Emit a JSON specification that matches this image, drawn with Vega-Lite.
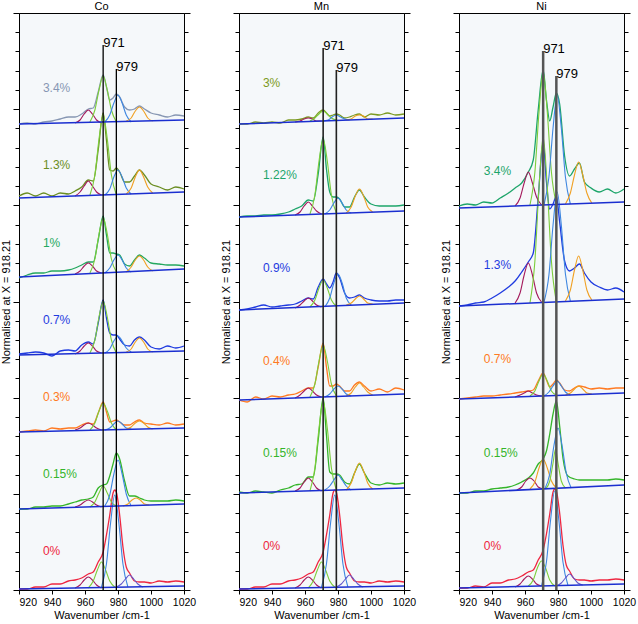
{
"$schema":"https://vega.github.io/schema/vega-lite/v6.json",
"padding":{"left":0,"top":0,"right":0,"bottom":0},
"background":"#ffffff",
"config":{"view":{"stroke":"#000","strokeWidth":1,"fill":"#f5f8fa"},
"axis":{"labelFont":"Liberation Sans","titleFont":"Liberation Sans","labelFontSize":10.5,"titleFontSize":11,"titleFontWeight":"normal","domainColor":"#000","tickColor":"#000","labelColor":"#000","titleColor":"#000","grid":false,"labelOverlap":false},
"axisY":{"titleFontSize":11},
"axisX":{"labelFlush":false,"labelAlign":{"condition":{"test":"datum.value === 920","value":"left"},"value":"center"}},
"title":{"font":"Liberation Sans","fontSize":11,"fontWeight":"normal","offset":1,"color":"#000"},
"text":{"font":"Liberation Sans"}},
"datasets":{
"co":[
{"s":"C1","c":"S","x":920,"y":466},{"s":"C1","c":"S","x":925,"y":467},{"s":"C1","c":"S","x":930,"y":466},{"s":"C1","c":"S","x":935,"y":468},{"s":"C1","c":"S","x":940,"y":469},{"s":"C1","c":"S","x":945,"y":471},{"s":"C1","c":"S","x":950,"y":473},{"s":"C1","c":"S","x":954,"y":473},{"s":"C1","c":"S","x":958,"y":476},{"s":"C1","c":"S","x":962,"y":481},{"s":"C1","c":"S","x":965,"y":482},{"s":"C1","c":"S","x":968,"y":498},{"s":"C1","c":"S","x":971,"y":515},{"s":"C1","c":"S","x":973,"y":503},{"s":"C1","c":"S","x":975,"y":490},{"s":"C1","c":"S","x":977,"y":492},{"s":"C1","c":"S","x":979,"y":496},{"s":"C1","c":"S","x":981,"y":493},{"s":"C1","c":"S","x":984,"y":483},{"s":"C1","c":"S","x":987,"y":480},{"s":"C1","c":"S","x":990,"y":481},{"s":"C1","c":"S","x":993,"y":484},{"s":"C1","c":"S","x":996,"y":481},{"s":"C1","c":"S","x":1000,"y":477},{"s":"C1","c":"S","x":1005,"y":475},{"s":"C1","c":"S","x":1010,"y":473},{"s":"C1","c":"S","x":1015,"y":475},{"s":"C1","c":"S","x":1020,"y":474},
{"s":"C1","c":"L","x":920,"y":466},{"s":"C1","c":"L","x":1020,"y":470},
{"s":"C1","c":"A","x":954,"y":467},{"s":"C1","c":"A","x":957,"y":470},{"s":"C1","c":"A","x":959.5,"y":476},{"s":"C1","c":"A","x":962,"y":480},{"s":"C1","c":"A","x":964.5,"y":476},{"s":"C1","c":"A","x":967,"y":470},{"s":"C1","c":"A","x":970,"y":467},
{"s":"C1","c":"G","x":963,"y":468},{"s":"C1","c":"G","x":966,"y":480},{"s":"C1","c":"G","x":968.5,"y":500},{"s":"C1","c":"G","x":971,"y":514},{"s":"C1","c":"G","x":973.5,"y":500},{"s":"C1","c":"G","x":976,"y":480},{"s":"C1","c":"G","x":979,"y":468},
{"s":"C1","c":"U","x":972,"y":468},{"s":"C1","c":"U","x":975,"y":475},{"s":"C1","c":"U","x":977.5,"y":487},{"s":"C1","c":"U","x":980,"y":495},{"s":"C1","c":"U","x":982.5,"y":487},{"s":"C1","c":"U","x":985,"y":475},{"s":"C1","c":"U","x":988,"y":468},
{"s":"C1","c":"O","x":985,"y":469},{"s":"C1","c":"O","x":988,"y":472},{"s":"C1","c":"O","x":990.5,"y":479},{"s":"C1","c":"O","x":993,"y":483},{"s":"C1","c":"O","x":995.5,"y":479},{"s":"C1","c":"O","x":998,"y":472},{"s":"C1","c":"O","x":1001,"y":469},

{"s":"C2","c":"S","x":920,"y":394},{"s":"C2","c":"S","x":925,"y":397},{"s":"C2","c":"S","x":930,"y":394},{"s":"C2","c":"S","x":935,"y":397},{"s":"C2","c":"S","x":940,"y":394},{"s":"C2","c":"S","x":945,"y":397},{"s":"C2","c":"S","x":950,"y":396},{"s":"C2","c":"S","x":954,"y":399},{"s":"C2","c":"S","x":958,"y":403},{"s":"C2","c":"S","x":962,"y":410},{"s":"C2","c":"S","x":965,"y":409},{"s":"C2","c":"S","x":968,"y":440},{"s":"C2","c":"S","x":971,"y":477},{"s":"C2","c":"S","x":973,"y":450},{"s":"C2","c":"S","x":975,"y":420},{"s":"C2","c":"S","x":977,"y":419},{"s":"C2","c":"S","x":979,"y":422},{"s":"C2","c":"S","x":981,"y":418},{"s":"C2","c":"S","x":984,"y":408},{"s":"C2","c":"S","x":987,"y":408},{"s":"C2","c":"S","x":990,"y":414},{"s":"C2","c":"S","x":993,"y":420},{"s":"C2","c":"S","x":996,"y":415},{"s":"C2","c":"S","x":1000,"y":406},{"s":"C2","c":"S","x":1005,"y":403},{"s":"C2","c":"S","x":1010,"y":400},{"s":"C2","c":"S","x":1015,"y":403},{"s":"C2","c":"S","x":1020,"y":401},
{"s":"C2","c":"L","x":920,"y":392},{"s":"C2","c":"L","x":1020,"y":398},
{"s":"C2","c":"A","x":954,"y":394},{"s":"C2","c":"A","x":957,"y":398},{"s":"C2","c":"A","x":959.5,"y":404},{"s":"C2","c":"A","x":962,"y":409},{"s":"C2","c":"A","x":964.5,"y":404},{"s":"C2","c":"A","x":967,"y":398},{"s":"C2","c":"A","x":970,"y":395},
{"s":"C2","c":"G","x":963,"y":395},{"s":"C2","c":"G","x":966,"y":415},{"s":"C2","c":"G","x":968.5,"y":451},{"s":"C2","c":"G","x":971,"y":475},{"s":"C2","c":"G","x":973.5,"y":451},{"s":"C2","c":"G","x":976,"y":415},{"s":"C2","c":"G","x":979,"y":395},
{"s":"C2","c":"U","x":972,"y":395},{"s":"C2","c":"U","x":975,"y":401},{"s":"C2","c":"U","x":977.5,"y":413},{"s":"C2","c":"U","x":980,"y":420},{"s":"C2","c":"U","x":982.5,"y":413},{"s":"C2","c":"U","x":985,"y":402},{"s":"C2","c":"U","x":988,"y":396},
{"s":"C2","c":"O","x":985,"y":396},{"s":"C2","c":"O","x":988,"y":402},{"s":"C2","c":"O","x":990.5,"y":413},{"s":"C2","c":"O","x":993,"y":420},{"s":"C2","c":"O","x":995.5,"y":413},{"s":"C2","c":"O","x":998,"y":403},{"s":"C2","c":"O","x":1001,"y":397},

{"s":"C3","c":"S","x":920,"y":312},{"s":"C3","c":"S","x":925,"y":315},{"s":"C3","c":"S","x":930,"y":317},{"s":"C3","c":"S","x":935,"y":317},{"s":"C3","c":"S","x":940,"y":319},{"s":"C3","c":"S","x":945,"y":319},{"s":"C3","c":"S","x":950,"y":320},{"s":"C3","c":"S","x":954,"y":322},{"s":"C3","c":"S","x":958,"y":325},{"s":"C3","c":"S","x":962,"y":328},{"s":"C3","c":"S","x":965,"y":328},{"s":"C3","c":"S","x":968,"y":350},{"s":"C3","c":"S","x":971,"y":374},{"s":"C3","c":"S","x":973,"y":355},{"s":"C3","c":"S","x":975,"y":337},{"s":"C3","c":"S","x":977,"y":337},{"s":"C3","c":"S","x":979,"y":336},{"s":"C3","c":"S","x":981,"y":335},{"s":"C3","c":"S","x":984,"y":326},{"s":"C3","c":"S","x":987,"y":324},{"s":"C3","c":"S","x":990,"y":330},{"s":"C3","c":"S","x":993,"y":335},{"s":"C3","c":"S","x":996,"y":332},{"s":"C3","c":"S","x":1000,"y":327},{"s":"C3","c":"S","x":1005,"y":326},{"s":"C3","c":"S","x":1010,"y":325},{"s":"C3","c":"S","x":1015,"y":325},{"s":"C3","c":"S","x":1020,"y":324},
{"s":"C3","c":"L","x":920,"y":313},{"s":"C3","c":"L","x":1020,"y":321},
{"s":"C3","c":"A","x":954,"y":316},{"s":"C3","c":"A","x":957,"y":319},{"s":"C3","c":"A","x":959.5,"y":324},{"s":"C3","c":"A","x":962,"y":327},{"s":"C3","c":"A","x":964.5,"y":324},{"s":"C3","c":"A","x":967,"y":319},{"s":"C3","c":"A","x":970,"y":317},
{"s":"C3","c":"G","x":963,"y":317},{"s":"C3","c":"G","x":966,"y":331},{"s":"C3","c":"G","x":968.5,"y":356},{"s":"C3","c":"G","x":971,"y":372},{"s":"C3","c":"G","x":973.5,"y":356},{"s":"C3","c":"G","x":976,"y":331},{"s":"C3","c":"G","x":979,"y":318},
{"s":"C3","c":"U","x":972,"y":317},{"s":"C3","c":"U","x":975,"y":322},{"s":"C3","c":"U","x":977.5,"y":330},{"s":"C3","c":"U","x":980,"y":335},{"s":"C3","c":"U","x":982.5,"y":330},{"s":"C3","c":"U","x":985,"y":322},{"s":"C3","c":"U","x":988,"y":318},
{"s":"C3","c":"O","x":985,"y":318},{"s":"C3","c":"O","x":988,"y":323},{"s":"C3","c":"O","x":990.5,"y":330},{"s":"C3","c":"O","x":993,"y":334},{"s":"C3","c":"O","x":995.5,"y":330},{"s":"C3","c":"O","x":998,"y":323},{"s":"C3","c":"O","x":1001,"y":319},

{"s":"C4","c":"S","x":920,"y":236},{"s":"C4","c":"S","x":925,"y":237},{"s":"C4","c":"S","x":930,"y":238},{"s":"C4","c":"S","x":935,"y":237},{"s":"C4","c":"S","x":940,"y":234},{"s":"C4","c":"S","x":945,"y":239},{"s":"C4","c":"S","x":950,"y":240},{"s":"C4","c":"S","x":954,"y":239},{"s":"C4","c":"S","x":958,"y":245},{"s":"C4","c":"S","x":962,"y":248},{"s":"C4","c":"S","x":965,"y":246},{"s":"C4","c":"S","x":968,"y":267},{"s":"C4","c":"S","x":971,"y":290},{"s":"C4","c":"S","x":973,"y":272},{"s":"C4","c":"S","x":975,"y":257},{"s":"C4","c":"S","x":977,"y":255},{"s":"C4","c":"S","x":979,"y":255},{"s":"C4","c":"S","x":981,"y":251},{"s":"C4","c":"S","x":984,"y":245},{"s":"C4","c":"S","x":987,"y":244},{"s":"C4","c":"S","x":990,"y":250},{"s":"C4","c":"S","x":993,"y":253},{"s":"C4","c":"S","x":996,"y":250},{"s":"C4","c":"S","x":1000,"y":243},{"s":"C4","c":"S","x":1005,"y":241},{"s":"C4","c":"S","x":1010,"y":244},{"s":"C4","c":"S","x":1015,"y":242},{"s":"C4","c":"S","x":1020,"y":244},
{"s":"C4","c":"L","x":920,"y":235},{"s":"C4","c":"L","x":1020,"y":239},
{"s":"C4","c":"A","x":954,"y":236},{"s":"C4","c":"A","x":957,"y":239},{"s":"C4","c":"A","x":959.5,"y":244},{"s":"C4","c":"A","x":962,"y":247},{"s":"C4","c":"A","x":964.5,"y":244},{"s":"C4","c":"A","x":967,"y":239},{"s":"C4","c":"A","x":970,"y":237},
{"s":"C4","c":"G","x":963,"y":237},{"s":"C4","c":"G","x":966,"y":250},{"s":"C4","c":"G","x":968.5,"y":273},{"s":"C4","c":"G","x":971,"y":289},{"s":"C4","c":"G","x":973.5,"y":273},{"s":"C4","c":"G","x":976,"y":250},{"s":"C4","c":"G","x":979,"y":237},
{"s":"C4","c":"U","x":972,"y":237},{"s":"C4","c":"U","x":975,"y":241},{"s":"C4","c":"U","x":977.5,"y":249},{"s":"C4","c":"U","x":980,"y":254},{"s":"C4","c":"U","x":982.5,"y":249},{"s":"C4","c":"U","x":985,"y":242},{"s":"C4","c":"U","x":988,"y":238},
{"s":"C4","c":"O","x":985,"y":238},{"s":"C4","c":"O","x":988,"y":241},{"s":"C4","c":"O","x":990.5,"y":248},{"s":"C4","c":"O","x":993,"y":252},{"s":"C4","c":"O","x":995.5,"y":248},{"s":"C4","c":"O","x":998,"y":241},{"s":"C4","c":"O","x":1001,"y":238},

{"s":"C5","c":"S","x":920,"y":158},{"s":"C5","c":"S","x":925,"y":159},{"s":"C5","c":"S","x":930,"y":160},{"s":"C5","c":"S","x":935,"y":159},{"s":"C5","c":"S","x":940,"y":162},{"s":"C5","c":"S","x":945,"y":161},{"s":"C5","c":"S","x":950,"y":162},{"s":"C5","c":"S","x":954,"y":162},{"s":"C5","c":"S","x":958,"y":165},{"s":"C5","c":"S","x":962,"y":167},{"s":"C5","c":"S","x":965,"y":166},{"s":"C5","c":"S","x":968,"y":177},{"s":"C5","c":"S","x":971,"y":188},{"s":"C5","c":"S","x":973,"y":178},{"s":"C5","c":"S","x":975,"y":168},{"s":"C5","c":"S","x":977,"y":169},{"s":"C5","c":"S","x":979,"y":170},{"s":"C5","c":"S","x":981,"y":168},{"s":"C5","c":"S","x":984,"y":165},{"s":"C5","c":"S","x":987,"y":165},{"s":"C5","c":"S","x":990,"y":168},{"s":"C5","c":"S","x":993,"y":170},{"s":"C5","c":"S","x":996,"y":167},{"s":"C5","c":"S","x":1000,"y":166},{"s":"C5","c":"S","x":1005,"y":165},{"s":"C5","c":"S","x":1010,"y":167},{"s":"C5","c":"S","x":1015,"y":165},{"s":"C5","c":"S","x":1020,"y":166},
{"s":"C5","c":"L","x":920,"y":158},{"s":"C5","c":"L","x":1020,"y":162},
{"s":"C5","c":"A","x":954,"y":160},{"s":"C5","c":"A","x":957,"y":162},{"s":"C5","c":"A","x":959.5,"y":165},{"s":"C5","c":"A","x":962,"y":167},{"s":"C5","c":"A","x":964.5,"y":165},{"s":"C5","c":"A","x":967,"y":162},{"s":"C5","c":"A","x":970,"y":160},
{"s":"C5","c":"G","x":963,"y":160},{"s":"C5","c":"G","x":966,"y":167},{"s":"C5","c":"G","x":968.5,"y":179},{"s":"C5","c":"G","x":971,"y":187},{"s":"C5","c":"G","x":973.5,"y":179},{"s":"C5","c":"G","x":976,"y":167},{"s":"C5","c":"G","x":979,"y":160},
{"s":"C5","c":"U","x":972,"y":160},{"s":"C5","c":"U","x":975,"y":162},{"s":"C5","c":"U","x":977.5,"y":166},{"s":"C5","c":"U","x":980,"y":169},{"s":"C5","c":"U","x":982.5,"y":166},{"s":"C5","c":"U","x":985,"y":162},{"s":"C5","c":"U","x":988,"y":161},
{"s":"C5","c":"O","x":985,"y":161},{"s":"C5","c":"O","x":988,"y":163},{"s":"C5","c":"O","x":990.5,"y":167},{"s":"C5","c":"O","x":993,"y":169},{"s":"C5","c":"O","x":995.5,"y":167},{"s":"C5","c":"O","x":998,"y":163},{"s":"C5","c":"O","x":1001,"y":161},

{"s":"C6","c":"S","x":920,"y":81},{"s":"C6","c":"S","x":925,"y":81},{"s":"C6","c":"S","x":930,"y":83},{"s":"C6","c":"S","x":935,"y":83},{"s":"C6","c":"S","x":940,"y":84},{"s":"C6","c":"S","x":945,"y":84},{"s":"C6","c":"S","x":950,"y":86},{"s":"C6","c":"S","x":954,"y":88},{"s":"C6","c":"S","x":958,"y":90},{"s":"C6","c":"S","x":962,"y":91},{"s":"C6","c":"S","x":965,"y":93},{"s":"C6","c":"S","x":968,"y":102},{"s":"C6","c":"S","x":971,"y":105},{"s":"C6","c":"S","x":973,"y":106},{"s":"C6","c":"S","x":975,"y":114},{"s":"C6","c":"S","x":977,"y":126},{"s":"C6","c":"S","x":979,"y":137},{"s":"C6","c":"S","x":981,"y":131},{"s":"C6","c":"S","x":984,"y":109},{"s":"C6","c":"S","x":987,"y":94},{"s":"C6","c":"S","x":990,"y":94},{"s":"C6","c":"S","x":993,"y":92},{"s":"C6","c":"S","x":996,"y":90},{"s":"C6","c":"S","x":1000,"y":89},{"s":"C6","c":"S","x":1005,"y":89},{"s":"C6","c":"S","x":1010,"y":89},{"s":"C6","c":"S","x":1015,"y":90},{"s":"C6","c":"S","x":1020,"y":89},
{"s":"C6","c":"L","x":920,"y":81},{"s":"C6","c":"L","x":1020,"y":86},
{"s":"C6","c":"A","x":954,"y":83},{"s":"C6","c":"A","x":957,"y":85},{"s":"C6","c":"A","x":959.5,"y":88},{"s":"C6","c":"A","x":962,"y":90},{"s":"C6","c":"A","x":964.5,"y":88},{"s":"C6","c":"A","x":967,"y":85},{"s":"C6","c":"A","x":970,"y":83},
{"s":"C6","c":"G","x":963,"y":83},{"s":"C6","c":"G","x":966,"y":88},{"s":"C6","c":"G","x":968.5,"y":97},{"s":"C6","c":"G","x":971,"y":104},{"s":"C6","c":"G","x":973.5,"y":97},{"s":"C6","c":"G","x":976,"y":88},{"s":"C6","c":"G","x":979,"y":84},
{"s":"C6","c":"U","x":972,"y":84},{"s":"C6","c":"U","x":975,"y":95},{"s":"C6","c":"U","x":977.5,"y":116},{"s":"C6","c":"U","x":980,"y":130},{"s":"C6","c":"U","x":982.5,"y":116},{"s":"C6","c":"U","x":985,"y":96},{"s":"C6","c":"U","x":988,"y":84},
{"s":"C6","c":"O","x":983,"y":84},{"s":"C6","c":"O","x":986,"y":86},{"s":"C6","c":"O","x":988.5,"y":90},{"s":"C6","c":"O","x":991,"y":92},{"s":"C6","c":"O","x":993.5,"y":90},{"s":"C6","c":"O","x":996,"y":86},{"s":"C6","c":"O","x":999,"y":85},

{"s":"C7","c":"S","x":920,"y":1},{"s":"C7","c":"S","x":925,"y":1},{"s":"C7","c":"S","x":930,"y":3},{"s":"C7","c":"S","x":935,"y":3},{"s":"C7","c":"S","x":940,"y":6},{"s":"C7","c":"S","x":945,"y":6},{"s":"C7","c":"S","x":950,"y":9},{"s":"C7","c":"S","x":954,"y":10},{"s":"C7","c":"S","x":958,"y":12},{"s":"C7","c":"S","x":962,"y":16},{"s":"C7","c":"S","x":965,"y":18},{"s":"C7","c":"S","x":968,"y":28},{"s":"C7","c":"S","x":971,"y":38},{"s":"C7","c":"S","x":973,"y":55},{"s":"C7","c":"S","x":975,"y":75},{"s":"C7","c":"S","x":977,"y":97},{"s":"C7","c":"S","x":978,"y":100},{"s":"C7","c":"S","x":979,"y":98},{"s":"C7","c":"S","x":981,"y":75},{"s":"C7","c":"S","x":983,"y":43},{"s":"C7","c":"S","x":985,"y":23},{"s":"C7","c":"S","x":987,"y":17},{"s":"C7","c":"S","x":990,"y":9},{"s":"C7","c":"S","x":993,"y":8},{"s":"C7","c":"S","x":996,"y":8},{"s":"C7","c":"S","x":1000,"y":7},{"s":"C7","c":"S","x":1005,"y":9},{"s":"C7","c":"S","x":1010,"y":8},{"s":"C7","c":"S","x":1015,"y":9},{"s":"C7","c":"S","x":1020,"y":8},
{"s":"C7","c":"L","x":920,"y":1},{"s":"C7","c":"L","x":1020,"y":4},
{"s":"C7","c":"A","x":954,"y":2},{"s":"C7","c":"A","x":957,"y":5},{"s":"C7","c":"A","x":959.5,"y":10},{"s":"C7","c":"A","x":962,"y":13},{"s":"C7","c":"A","x":964.5,"y":10},{"s":"C7","c":"A","x":967,"y":5},{"s":"C7","c":"A","x":970,"y":2},
{"s":"C7","c":"G","x":962,"y":2},{"s":"C7","c":"G","x":965,"y":9},{"s":"C7","c":"G","x":967.5,"y":20},{"s":"C7","c":"G","x":970,"y":28},{"s":"C7","c":"G","x":972.5,"y":20},{"s":"C7","c":"G","x":975,"y":9},{"s":"C7","c":"G","x":978,"y":3},
{"s":"C7","c":"U","x":970,"y":3},{"s":"C7","c":"U","x":973,"y":26},{"s":"C7","c":"U","x":975.5,"y":67},{"s":"C7","c":"U","x":978,"y":95},{"s":"C7","c":"U","x":980.5,"y":67},{"s":"C7","c":"U","x":983,"y":26},{"s":"C7","c":"U","x":986,"y":3},
{"s":"C7","c":"V","x":979,"y":3},{"s":"C7","c":"V","x":982,"y":6},{"s":"C7","c":"V","x":984.5,"y":11},{"s":"C7","c":"V","x":987,"y":15},{"s":"C7","c":"V","x":989.5,"y":11},{"s":"C7","c":"V","x":992,"y":6},{"s":"C7","c":"V","x":995,"y":3}
],
"mn":[
{"s":"M1","c":"S","x":920,"y":466},{"s":"M1","c":"S","x":925,"y":466},{"s":"M1","c":"S","x":930,"y":468},{"s":"M1","c":"S","x":935,"y":467},{"s":"M1","c":"S","x":940,"y":468},{"s":"M1","c":"S","x":945,"y":467},{"s":"M1","c":"S","x":950,"y":470},{"s":"M1","c":"S","x":954,"y":470},{"s":"M1","c":"S","x":958,"y":471},{"s":"M1","c":"S","x":962,"y":473},{"s":"M1","c":"S","x":965,"y":472},{"s":"M1","c":"S","x":968,"y":477},{"s":"M1","c":"S","x":971,"y":480},{"s":"M1","c":"S","x":973,"y":477},{"s":"M1","c":"S","x":975,"y":474},{"s":"M1","c":"S","x":977,"y":475},{"s":"M1","c":"S","x":979,"y":476},{"s":"M1","c":"S","x":981,"y":475},{"s":"M1","c":"S","x":984,"y":472},{"s":"M1","c":"S","x":987,"y":473},{"s":"M1","c":"S","x":990,"y":475},{"s":"M1","c":"S","x":993,"y":476},{"s":"M1","c":"S","x":996,"y":473},{"s":"M1","c":"S","x":1000,"y":476},{"s":"M1","c":"S","x":1005,"y":475},{"s":"M1","c":"S","x":1010,"y":477},{"s":"M1","c":"S","x":1015,"y":475},{"s":"M1","c":"S","x":1020,"y":476},
{"s":"M1","c":"L","x":920,"y":466},{"s":"M1","c":"L","x":1020,"y":472},
{"s":"M1","c":"A","x":954,"y":468},{"s":"M1","c":"A","x":957,"y":469},{"s":"M1","c":"A","x":959.5,"y":471},{"s":"M1","c":"A","x":962,"y":472},{"s":"M1","c":"A","x":964.5,"y":471},{"s":"M1","c":"A","x":967,"y":469},{"s":"M1","c":"A","x":970,"y":469},
{"s":"M1","c":"G","x":963,"y":469},{"s":"M1","c":"G","x":966,"y":472},{"s":"M1","c":"G","x":968.5,"y":476},{"s":"M1","c":"G","x":971,"y":479},{"s":"M1","c":"G","x":973.5,"y":476},{"s":"M1","c":"G","x":976,"y":472},{"s":"M1","c":"G","x":979,"y":470},
{"s":"M1","c":"U","x":971,"y":469},{"s":"M1","c":"U","x":974,"y":470},{"s":"M1","c":"U","x":976.5,"y":473},{"s":"M1","c":"U","x":979,"y":475},{"s":"M1","c":"U","x":981.5,"y":473},{"s":"M1","c":"U","x":984,"y":471},{"s":"M1","c":"U","x":987,"y":470},
{"s":"M1","c":"O","x":985,"y":470},{"s":"M1","c":"O","x":988,"y":471},{"s":"M1","c":"O","x":990.5,"y":474},{"s":"M1","c":"O","x":993,"y":475},{"s":"M1","c":"O","x":995.5,"y":474},{"s":"M1","c":"O","x":998,"y":471},{"s":"M1","c":"O","x":1001,"y":471},

{"s":"M2","c":"S","x":920,"y":373},{"s":"M2","c":"S","x":925,"y":374},{"s":"M2","c":"S","x":930,"y":374},{"s":"M2","c":"S","x":935,"y":375},{"s":"M2","c":"S","x":940,"y":375},{"s":"M2","c":"S","x":945,"y":376},{"s":"M2","c":"S","x":950,"y":378},{"s":"M2","c":"S","x":954,"y":381},{"s":"M2","c":"S","x":958,"y":384},{"s":"M2","c":"S","x":962,"y":390},{"s":"M2","c":"S","x":965,"y":389},{"s":"M2","c":"S","x":968,"y":416},{"s":"M2","c":"S","x":971,"y":453},{"s":"M2","c":"S","x":973,"y":421},{"s":"M2","c":"S","x":975,"y":398},{"s":"M2","c":"S","x":977,"y":393},{"s":"M2","c":"S","x":979,"y":393},{"s":"M2","c":"S","x":981,"y":391},{"s":"M2","c":"S","x":984,"y":383},{"s":"M2","c":"S","x":987,"y":383},{"s":"M2","c":"S","x":990,"y":393},{"s":"M2","c":"S","x":993,"y":400},{"s":"M2","c":"S","x":996,"y":393},{"s":"M2","c":"S","x":1000,"y":386},{"s":"M2","c":"S","x":1005,"y":384},{"s":"M2","c":"S","x":1010,"y":384},{"s":"M2","c":"S","x":1015,"y":384},{"s":"M2","c":"S","x":1020,"y":385},
{"s":"M2","c":"L","x":920,"y":373},{"s":"M2","c":"L","x":1020,"y":379},
{"s":"M2","c":"A","x":954,"y":375},{"s":"M2","c":"A","x":957,"y":378},{"s":"M2","c":"A","x":959.5,"y":384},{"s":"M2","c":"A","x":962,"y":388},{"s":"M2","c":"A","x":964.5,"y":384},{"s":"M2","c":"A","x":967,"y":379},{"s":"M2","c":"A","x":970,"y":376},
{"s":"M2","c":"G","x":963,"y":376},{"s":"M2","c":"G","x":966,"y":395},{"s":"M2","c":"G","x":968.5,"y":429},{"s":"M2","c":"G","x":971,"y":451},{"s":"M2","c":"G","x":973.5,"y":429},{"s":"M2","c":"G","x":976,"y":395},{"s":"M2","c":"G","x":979,"y":377},
{"s":"M2","c":"U","x":972,"y":376},{"s":"M2","c":"U","x":975,"y":380},{"s":"M2","c":"U","x":977.5,"y":387},{"s":"M2","c":"U","x":980,"y":392},{"s":"M2","c":"U","x":982.5,"y":387},{"s":"M2","c":"U","x":985,"y":380},{"s":"M2","c":"U","x":988,"y":377},
{"s":"M2","c":"O","x":985,"y":377},{"s":"M2","c":"O","x":988,"y":383},{"s":"M2","c":"O","x":990.5,"y":394},{"s":"M2","c":"O","x":993,"y":401},{"s":"M2","c":"O","x":995.5,"y":394},{"s":"M2","c":"O","x":998,"y":383},{"s":"M2","c":"O","x":1001,"y":378},

{"s":"M3","c":"S","x":920,"y":280},{"s":"M3","c":"S","x":925,"y":281},{"s":"M3","c":"S","x":930,"y":283},{"s":"M3","c":"S","x":935,"y":285},{"s":"M3","c":"S","x":940,"y":283},{"s":"M3","c":"S","x":945,"y":284},{"s":"M3","c":"S","x":950,"y":285},{"s":"M3","c":"S","x":954,"y":286},{"s":"M3","c":"S","x":958,"y":289},{"s":"M3","c":"S","x":962,"y":292},{"s":"M3","c":"S","x":965,"y":291},{"s":"M3","c":"S","x":968,"y":303},{"s":"M3","c":"S","x":971,"y":311},{"s":"M3","c":"S","x":973,"y":306},{"s":"M3","c":"S","x":975,"y":302},{"s":"M3","c":"S","x":977,"y":308},{"s":"M3","c":"S","x":979,"y":317},{"s":"M3","c":"S","x":981,"y":312},{"s":"M3","c":"S","x":984,"y":297},{"s":"M3","c":"S","x":987,"y":292},{"s":"M3","c":"S","x":990,"y":293},{"s":"M3","c":"S","x":993,"y":295},{"s":"M3","c":"S","x":996,"y":292},{"s":"M3","c":"S","x":1000,"y":290},{"s":"M3","c":"S","x":1005,"y":289},{"s":"M3","c":"S","x":1010,"y":289},{"s":"M3","c":"S","x":1015,"y":290},{"s":"M3","c":"S","x":1020,"y":290},
{"s":"M3","c":"L","x":920,"y":280},{"s":"M3","c":"L","x":1020,"y":287},
{"s":"M3","c":"A","x":954,"y":282},{"s":"M3","c":"A","x":957,"y":285},{"s":"M3","c":"A","x":959.5,"y":289},{"s":"M3","c":"A","x":962,"y":292},{"s":"M3","c":"A","x":964.5,"y":289},{"s":"M3","c":"A","x":967,"y":285},{"s":"M3","c":"A","x":970,"y":283},
{"s":"M3","c":"G","x":963,"y":283},{"s":"M3","c":"G","x":966,"y":290},{"s":"M3","c":"G","x":968.5,"y":302},{"s":"M3","c":"G","x":971,"y":310},{"s":"M3","c":"G","x":973.5,"y":302},{"s":"M3","c":"G","x":976,"y":290},{"s":"M3","c":"G","x":979,"y":284},
{"s":"M3","c":"U","x":972,"y":283},{"s":"M3","c":"U","x":975,"y":292},{"s":"M3","c":"U","x":977.5,"y":307},{"s":"M3","c":"U","x":980,"y":316},{"s":"M3","c":"U","x":982.5,"y":307},{"s":"M3","c":"U","x":985,"y":292},{"s":"M3","c":"U","x":988,"y":285},
{"s":"M3","c":"O","x":985,"y":285},{"s":"M3","c":"O","x":988,"y":287},{"s":"M3","c":"O","x":990.5,"y":291},{"s":"M3","c":"O","x":993,"y":294},{"s":"M3","c":"O","x":995.5,"y":291},{"s":"M3","c":"O","x":998,"y":287},{"s":"M3","c":"O","x":1001,"y":286},

{"s":"M4","c":"S","x":920,"y":190},{"s":"M4","c":"S","x":925,"y":188},{"s":"M4","c":"S","x":930,"y":193},{"s":"M4","c":"S","x":935,"y":191},{"s":"M4","c":"S","x":940,"y":194},{"s":"M4","c":"S","x":945,"y":193},{"s":"M4","c":"S","x":950,"y":195},{"s":"M4","c":"S","x":954,"y":196},{"s":"M4","c":"S","x":958,"y":199},{"s":"M4","c":"S","x":962,"y":202},{"s":"M4","c":"S","x":965,"y":202},{"s":"M4","c":"S","x":968,"y":223},{"s":"M4","c":"S","x":971,"y":247},{"s":"M4","c":"S","x":973,"y":223},{"s":"M4","c":"S","x":975,"y":204},{"s":"M4","c":"S","x":977,"y":204},{"s":"M4","c":"S","x":979,"y":206},{"s":"M4","c":"S","x":981,"y":204},{"s":"M4","c":"S","x":984,"y":199},{"s":"M4","c":"S","x":987,"y":199},{"s":"M4","c":"S","x":990,"y":205},{"s":"M4","c":"S","x":993,"y":208},{"s":"M4","c":"S","x":996,"y":204},{"s":"M4","c":"S","x":1000,"y":199},{"s":"M4","c":"S","x":1005,"y":201},{"s":"M4","c":"S","x":1010,"y":198},{"s":"M4","c":"S","x":1015,"y":202},{"s":"M4","c":"S","x":1020,"y":200},
{"s":"M4","c":"L","x":920,"y":190},{"s":"M4","c":"L","x":1020,"y":196},
{"s":"M4","c":"A","x":954,"y":192},{"s":"M4","c":"A","x":957,"y":195},{"s":"M4","c":"A","x":959.5,"y":199},{"s":"M4","c":"A","x":962,"y":202},{"s":"M4","c":"A","x":964.5,"y":199},{"s":"M4","c":"A","x":967,"y":195},{"s":"M4","c":"A","x":970,"y":193},
{"s":"M4","c":"G","x":963,"y":193},{"s":"M4","c":"G","x":966,"y":206},{"s":"M4","c":"G","x":968.5,"y":229},{"s":"M4","c":"G","x":971,"y":245},{"s":"M4","c":"G","x":973.5,"y":229},{"s":"M4","c":"G","x":976,"y":206},{"s":"M4","c":"G","x":979,"y":194},
{"s":"M4","c":"U","x":972,"y":193},{"s":"M4","c":"U","x":975,"y":196},{"s":"M4","c":"U","x":977.5,"y":201},{"s":"M4","c":"U","x":980,"y":204},{"s":"M4","c":"U","x":982.5,"y":201},{"s":"M4","c":"U","x":985,"y":196},{"s":"M4","c":"U","x":988,"y":194},
{"s":"M4","c":"O","x":985,"y":194},{"s":"M4","c":"O","x":988,"y":197},{"s":"M4","c":"O","x":990.5,"y":203},{"s":"M4","c":"O","x":993,"y":207},{"s":"M4","c":"O","x":995.5,"y":203},{"s":"M4","c":"O","x":998,"y":198},{"s":"M4","c":"O","x":1001,"y":195},

{"s":"M5","c":"S","x":920,"y":98},{"s":"M5","c":"S","x":925,"y":97},{"s":"M5","c":"S","x":930,"y":99},{"s":"M5","c":"S","x":935,"y":98},{"s":"M5","c":"S","x":940,"y":97},{"s":"M5","c":"S","x":945,"y":100},{"s":"M5","c":"S","x":950,"y":102},{"s":"M5","c":"S","x":954,"y":105},{"s":"M5","c":"S","x":958,"y":106},{"s":"M5","c":"S","x":962,"y":113},{"s":"M5","c":"S","x":965,"y":113},{"s":"M5","c":"S","x":968,"y":150},{"s":"M5","c":"S","x":971,"y":192},{"s":"M5","c":"S","x":973,"y":155},{"s":"M5","c":"S","x":975,"y":118},{"s":"M5","c":"S","x":977,"y":116},{"s":"M5","c":"S","x":979,"y":116},{"s":"M5","c":"S","x":981,"y":115},{"s":"M5","c":"S","x":984,"y":108},{"s":"M5","c":"S","x":987,"y":106},{"s":"M5","c":"S","x":990,"y":117},{"s":"M5","c":"S","x":993,"y":126},{"s":"M5","c":"S","x":996,"y":117},{"s":"M5","c":"S","x":1000,"y":107},{"s":"M5","c":"S","x":1005,"y":105},{"s":"M5","c":"S","x":1010,"y":107},{"s":"M5","c":"S","x":1015,"y":106},{"s":"M5","c":"S","x":1020,"y":107},
{"s":"M5","c":"L","x":920,"y":97},{"s":"M5","c":"L","x":1020,"y":102},
{"s":"M5","c":"A","x":954,"y":99},{"s":"M5","c":"A","x":957,"y":102},{"s":"M5","c":"A","x":959.5,"y":108},{"s":"M5","c":"A","x":962,"y":112},{"s":"M5","c":"A","x":964.5,"y":108},{"s":"M5","c":"A","x":967,"y":102},{"s":"M5","c":"A","x":970,"y":99},
{"s":"M5","c":"G","x":963,"y":99},{"s":"M5","c":"G","x":966,"y":122},{"s":"M5","c":"G","x":968.5,"y":162},{"s":"M5","c":"G","x":971,"y":189},{"s":"M5","c":"G","x":973.5,"y":162},{"s":"M5","c":"G","x":976,"y":122},{"s":"M5","c":"G","x":979,"y":100},
{"s":"M5","c":"U","x":972,"y":100},{"s":"M5","c":"U","x":975,"y":104},{"s":"M5","c":"U","x":977.5,"y":110},{"s":"M5","c":"U","x":980,"y":115},{"s":"M5","c":"U","x":982.5,"y":110},{"s":"M5","c":"U","x":985,"y":104},{"s":"M5","c":"U","x":988,"y":100},
{"s":"M5","c":"O","x":985,"y":100},{"s":"M5","c":"O","x":988,"y":107},{"s":"M5","c":"O","x":990.5,"y":119},{"s":"M5","c":"O","x":993,"y":127},{"s":"M5","c":"O","x":995.5,"y":119},{"s":"M5","c":"O","x":998,"y":107},{"s":"M5","c":"O","x":1001,"y":101},

{"s":"M6","c":"S","x":920,"y":1},{"s":"M6","c":"S","x":925,"y":1},{"s":"M6","c":"S","x":930,"y":3},{"s":"M6","c":"S","x":935,"y":3},{"s":"M6","c":"S","x":940,"y":6},{"s":"M6","c":"S","x":945,"y":6},{"s":"M6","c":"S","x":950,"y":9},{"s":"M6","c":"S","x":954,"y":10},{"s":"M6","c":"S","x":958,"y":12},{"s":"M6","c":"S","x":962,"y":16},{"s":"M6","c":"S","x":965,"y":18},{"s":"M6","c":"S","x":968,"y":28},{"s":"M6","c":"S","x":971,"y":38},{"s":"M6","c":"S","x":973,"y":55},{"s":"M6","c":"S","x":975,"y":75},{"s":"M6","c":"S","x":977,"y":97},{"s":"M6","c":"S","x":978,"y":100},{"s":"M6","c":"S","x":979,"y":98},{"s":"M6","c":"S","x":981,"y":75},{"s":"M6","c":"S","x":983,"y":43},{"s":"M6","c":"S","x":985,"y":23},{"s":"M6","c":"S","x":987,"y":17},{"s":"M6","c":"S","x":990,"y":9},{"s":"M6","c":"S","x":993,"y":8},{"s":"M6","c":"S","x":996,"y":8},{"s":"M6","c":"S","x":1000,"y":7},{"s":"M6","c":"S","x":1005,"y":9},{"s":"M6","c":"S","x":1010,"y":8},{"s":"M6","c":"S","x":1015,"y":9},{"s":"M6","c":"S","x":1020,"y":8},
{"s":"M6","c":"L","x":920,"y":1},{"s":"M6","c":"L","x":1020,"y":4},
{"s":"M6","c":"A","x":954,"y":2},{"s":"M6","c":"A","x":957,"y":5},{"s":"M6","c":"A","x":959.5,"y":10},{"s":"M6","c":"A","x":962,"y":13},{"s":"M6","c":"A","x":964.5,"y":10},{"s":"M6","c":"A","x":967,"y":5},{"s":"M6","c":"A","x":970,"y":2},
{"s":"M6","c":"G","x":962,"y":2},{"s":"M6","c":"G","x":965,"y":9},{"s":"M6","c":"G","x":967.5,"y":20},{"s":"M6","c":"G","x":970,"y":28},{"s":"M6","c":"G","x":972.5,"y":20},{"s":"M6","c":"G","x":975,"y":9},{"s":"M6","c":"G","x":978,"y":3},
{"s":"M6","c":"U","x":970,"y":3},{"s":"M6","c":"U","x":973,"y":26},{"s":"M6","c":"U","x":975.5,"y":67},{"s":"M6","c":"U","x":978,"y":95},{"s":"M6","c":"U","x":980.5,"y":67},{"s":"M6","c":"U","x":983,"y":26},{"s":"M6","c":"U","x":986,"y":3},
{"s":"M6","c":"V","x":979,"y":3},{"s":"M6","c":"V","x":982,"y":6},{"s":"M6","c":"V","x":984.5,"y":11},{"s":"M6","c":"V","x":987,"y":15},{"s":"M6","c":"V","x":989.5,"y":11},{"s":"M6","c":"V","x":992,"y":6},{"s":"M6","c":"V","x":995,"y":3}
],
"ni":[
{"s":"N1","c":"S","x":920,"y":384},{"s":"N1","c":"S","x":925,"y":386},{"s":"N1","c":"S","x":930,"y":385},{"s":"N1","c":"S","x":935,"y":388},{"s":"N1","c":"S","x":940,"y":387},{"s":"N1","c":"S","x":945,"y":392},{"s":"N1","c":"S","x":950,"y":397},{"s":"N1","c":"S","x":954,"y":402},{"s":"N1","c":"S","x":958,"y":407},{"s":"N1","c":"S","x":962,"y":418},{"s":"N1","c":"S","x":965,"y":430},{"s":"N1","c":"S","x":968,"y":480},{"s":"N1","c":"S","x":971,"y":520},{"s":"N1","c":"S","x":973,"y":490},{"s":"N1","c":"S","x":975,"y":469},{"s":"N1","c":"S","x":977,"y":483},{"s":"N1","c":"S","x":979,"y":497},{"s":"N1","c":"S","x":981,"y":486},{"s":"N1","c":"S","x":984,"y":434},{"s":"N1","c":"S","x":987,"y":414},{"s":"N1","c":"S","x":990,"y":421},{"s":"N1","c":"S","x":993,"y":427},{"s":"N1","c":"S","x":996,"y":408},{"s":"N1","c":"S","x":1000,"y":402},{"s":"N1","c":"S","x":1005,"y":398},{"s":"N1","c":"S","x":1010,"y":401},{"s":"N1","c":"S","x":1015,"y":397},{"s":"N1","c":"S","x":1020,"y":401},
{"s":"N1","c":"L","x":920,"y":382},{"s":"N1","c":"L","x":1020,"y":388},
{"s":"N1","c":"A","x":954,"y":384},{"s":"N1","c":"A","x":957,"y":392},{"s":"N1","c":"A","x":959.5,"y":407},{"s":"N1","c":"A","x":962,"y":418},{"s":"N1","c":"A","x":964.5,"y":407},{"s":"N1","c":"A","x":967,"y":393},{"s":"N1","c":"A","x":970,"y":385},
{"s":"N1","c":"G","x":963,"y":385},{"s":"N1","c":"G","x":966,"y":418},{"s":"N1","c":"G","x":968.5,"y":478},{"s":"N1","c":"G","x":971,"y":518},{"s":"N1","c":"G","x":973.5,"y":478},{"s":"N1","c":"G","x":976,"y":418},{"s":"N1","c":"G","x":979,"y":386},
{"s":"N1","c":"U","x":971.5,"y":385},{"s":"N1","c":"U","x":974.5,"y":413},{"s":"N1","c":"U","x":977,"y":462},{"s":"N1","c":"U","x":979.5,"y":495},{"s":"N1","c":"U","x":982,"y":462},{"s":"N1","c":"U","x":984.5,"y":413},{"s":"N1","c":"U","x":987.5,"y":386},
{"s":"N1","c":"O","x":984.5,"y":386},{"s":"N1","c":"O","x":987.5,"y":397},{"s":"N1","c":"O","x":990,"y":415},{"s":"N1","c":"O","x":992.5,"y":428},{"s":"N1","c":"O","x":995,"y":415},{"s":"N1","c":"O","x":997.5,"y":397},{"s":"N1","c":"O","x":1000.5,"y":387},

{"s":"N2","c":"S","x":920,"y":284},{"s":"N2","c":"S","x":925,"y":285},{"s":"N2","c":"S","x":930,"y":287},{"s":"N2","c":"S","x":935,"y":288},{"s":"N2","c":"S","x":940,"y":292},{"s":"N2","c":"S","x":945,"y":297},{"s":"N2","c":"S","x":950,"y":303},{"s":"N2","c":"S","x":954,"y":309},{"s":"N2","c":"S","x":958,"y":318},{"s":"N2","c":"S","x":962,"y":328},{"s":"N2","c":"S","x":965,"y":337},{"s":"N2","c":"S","x":968,"y":392},{"s":"N2","c":"S","x":971,"y":448},{"s":"N2","c":"S","x":973,"y":408},{"s":"N2","c":"S","x":975,"y":381},{"s":"N2","c":"S","x":977,"y":386},{"s":"N2","c":"S","x":979,"y":394},{"s":"N2","c":"S","x":981,"y":368},{"s":"N2","c":"S","x":984,"y":329},{"s":"N2","c":"S","x":987,"y":319},{"s":"N2","c":"S","x":990,"y":322},{"s":"N2","c":"S","x":993,"y":326},{"s":"N2","c":"S","x":996,"y":317},{"s":"N2","c":"S","x":1000,"y":308},{"s":"N2","c":"S","x":1005,"y":303},{"s":"N2","c":"S","x":1010,"y":300},{"s":"N2","c":"S","x":1015,"y":302},{"s":"N2","c":"S","x":1020,"y":298},
{"s":"N2","c":"L","x":920,"y":284},{"s":"N2","c":"L","x":1020,"y":291},
{"s":"N2","c":"A","x":954,"y":287},{"s":"N2","c":"A","x":957,"y":297},{"s":"N2","c":"A","x":959.5,"y":315},{"s":"N2","c":"A","x":962,"y":327},{"s":"N2","c":"A","x":964.5,"y":315},{"s":"N2","c":"A","x":967,"y":297},{"s":"N2","c":"A","x":970,"y":288},
{"s":"N2","c":"G","x":963,"y":287},{"s":"N2","c":"G","x":966,"y":329},{"s":"N2","c":"G","x":968.5,"y":403},{"s":"N2","c":"G","x":971,"y":453},{"s":"N2","c":"G","x":973.5,"y":403},{"s":"N2","c":"G","x":976,"y":329},{"s":"N2","c":"G","x":979,"y":288},
{"s":"N2","c":"U","x":971.5,"y":288},{"s":"N2","c":"U","x":974.5,"y":315},{"s":"N2","c":"U","x":977,"y":365},{"s":"N2","c":"U","x":979.5,"y":398},{"s":"N2","c":"U","x":982,"y":365},{"s":"N2","c":"U","x":984.5,"y":316},{"s":"N2","c":"U","x":987.5,"y":289},
{"s":"N2","c":"O","x":984.5,"y":289},{"s":"N2","c":"O","x":987.5,"y":300},{"s":"N2","c":"O","x":990,"y":320},{"s":"N2","c":"O","x":992.5,"y":334},{"s":"N2","c":"O","x":995,"y":320},{"s":"N2","c":"O","x":997.5,"y":300},{"s":"N2","c":"O","x":1000.5,"y":290},

{"s":"N3","c":"S","x":920,"y":191},{"s":"N3","c":"S","x":925,"y":192},{"s":"N3","c":"S","x":930,"y":193},{"s":"N3","c":"S","x":935,"y":194},{"s":"N3","c":"S","x":940,"y":194},{"s":"N3","c":"S","x":945,"y":195},{"s":"N3","c":"S","x":950,"y":196},{"s":"N3","c":"S","x":954,"y":197},{"s":"N3","c":"S","x":958,"y":198},{"s":"N3","c":"S","x":962,"y":199},{"s":"N3","c":"S","x":965,"y":200},{"s":"N3","c":"S","x":968,"y":209},{"s":"N3","c":"S","x":971,"y":217},{"s":"N3","c":"S","x":973,"y":210},{"s":"N3","c":"S","x":975,"y":203},{"s":"N3","c":"S","x":977,"y":206},{"s":"N3","c":"S","x":979,"y":210},{"s":"N3","c":"S","x":981,"y":207},{"s":"N3","c":"S","x":984,"y":200},{"s":"N3","c":"S","x":987,"y":199},{"s":"N3","c":"S","x":990,"y":202},{"s":"N3","c":"S","x":993,"y":204},{"s":"N3","c":"S","x":996,"y":203},{"s":"N3","c":"S","x":1000,"y":201},{"s":"N3","c":"S","x":1005,"y":202},{"s":"N3","c":"S","x":1010,"y":201},{"s":"N3","c":"S","x":1015,"y":202},{"s":"N3","c":"S","x":1020,"y":202},
{"s":"N3","c":"L","x":920,"y":191},{"s":"N3","c":"L","x":1020,"y":197},
{"s":"N3","c":"A","x":954,"y":193},{"s":"N3","c":"A","x":957,"y":195},{"s":"N3","c":"A","x":959.5,"y":197},{"s":"N3","c":"A","x":962,"y":199},{"s":"N3","c":"A","x":964.5,"y":197},{"s":"N3","c":"A","x":967,"y":195},{"s":"N3","c":"A","x":970,"y":194},
{"s":"N3","c":"G","x":963,"y":194},{"s":"N3","c":"G","x":966,"y":199},{"s":"N3","c":"G","x":968.5,"y":209},{"s":"N3","c":"G","x":971,"y":216},{"s":"N3","c":"G","x":973.5,"y":209},{"s":"N3","c":"G","x":976,"y":199},{"s":"N3","c":"G","x":979,"y":195},
{"s":"N3","c":"U","x":971.5,"y":194},{"s":"N3","c":"U","x":974.5,"y":198},{"s":"N3","c":"U","x":977,"y":204},{"s":"N3","c":"U","x":979.5,"y":209},{"s":"N3","c":"U","x":982,"y":204},{"s":"N3","c":"U","x":984.5,"y":198},{"s":"N3","c":"U","x":987.5,"y":195},
{"s":"N3","c":"O","x":984.5,"y":195},{"s":"N3","c":"O","x":987.5,"y":197},{"s":"N3","c":"O","x":990,"y":201},{"s":"N3","c":"O","x":992.5,"y":204},{"s":"N3","c":"O","x":995,"y":201},{"s":"N3","c":"O","x":997.5,"y":197},{"s":"N3","c":"O","x":1000.5,"y":196},

{"s":"N4","c":"S","x":920,"y":97},{"s":"N4","c":"S","x":925,"y":97},{"s":"N4","c":"S","x":930,"y":99},{"s":"N4","c":"S","x":935,"y":99},{"s":"N4","c":"S","x":940,"y":101},{"s":"N4","c":"S","x":945,"y":102},{"s":"N4","c":"S","x":950,"y":103},{"s":"N4","c":"S","x":954,"y":105},{"s":"N4","c":"S","x":958,"y":108},{"s":"N4","c":"S","x":962,"y":112},{"s":"N4","c":"S","x":965,"y":117},{"s":"N4","c":"S","x":968,"y":126},{"s":"N4","c":"S","x":971,"y":131},{"s":"N4","c":"S","x":973,"y":139},{"s":"N4","c":"S","x":975,"y":156},{"s":"N4","c":"S","x":977,"y":176},{"s":"N4","c":"S","x":979,"y":189},{"s":"N4","c":"S","x":981,"y":164},{"s":"N4","c":"S","x":983,"y":132},{"s":"N4","c":"S","x":986,"y":114},{"s":"N4","c":"S","x":990,"y":111},{"s":"N4","c":"S","x":993,"y":110},{"s":"N4","c":"S","x":996,"y":110},{"s":"N4","c":"S","x":1000,"y":110},{"s":"N4","c":"S","x":1005,"y":110},{"s":"N4","c":"S","x":1010,"y":110},{"s":"N4","c":"S","x":1015,"y":111},{"s":"N4","c":"S","x":1020,"y":110},
{"s":"N4","c":"L","x":920,"y":97},{"s":"N4","c":"L","x":1020,"y":105},
{"s":"N4","c":"A","x":955,"y":100},{"s":"N4","c":"A","x":958,"y":103},{"s":"N4","c":"A","x":960.5,"y":109},{"s":"N4","c":"A","x":963,"y":112},{"s":"N4","c":"A","x":965.5,"y":109},{"s":"N4","c":"A","x":968,"y":103},{"s":"N4","c":"A","x":971,"y":101},
{"s":"N4","c":"O","x":963,"y":101},{"s":"N4","c":"O","x":966,"y":108},{"s":"N4","c":"O","x":968.5,"y":122},{"s":"N4","c":"O","x":971,"y":131},{"s":"N4","c":"O","x":973.5,"y":122},{"s":"N4","c":"O","x":976,"y":109},{"s":"N4","c":"O","x":979,"y":102},
{"s":"N4","c":"G","x":972.5,"y":101},{"s":"N4","c":"G","x":975,"y":109},{"s":"N4","c":"G","x":977,"y":127},{"s":"N4","c":"G","x":978.5,"y":141},{"s":"N4","c":"G","x":980,"y":127},{"s":"N4","c":"G","x":982,"y":109},{"s":"N4","c":"G","x":984.5,"y":102},
{"s":"N4","c":"U","x":972,"y":101},{"s":"N4","c":"U","x":975,"y":116},{"s":"N4","c":"U","x":977.5,"y":144},{"s":"N4","c":"U","x":980,"y":162},{"s":"N4","c":"U","x":982.5,"y":144},{"s":"N4","c":"U","x":985,"y":117},{"s":"N4","c":"U","x":988,"y":102},

{"s":"N5","c":"S","x":920,"y":2},{"s":"N5","c":"S","x":925,"y":2},{"s":"N5","c":"S","x":930,"y":4},{"s":"N5","c":"S","x":935,"y":3},{"s":"N5","c":"S","x":940,"y":7},{"s":"N5","c":"S","x":945,"y":7},{"s":"N5","c":"S","x":950,"y":10},{"s":"N5","c":"S","x":954,"y":11},{"s":"N5","c":"S","x":958,"y":14},{"s":"N5","c":"S","x":962,"y":18},{"s":"N5","c":"S","x":965,"y":20},{"s":"N5","c":"S","x":968,"y":30},{"s":"N5","c":"S","x":971,"y":40},{"s":"N5","c":"S","x":973,"y":56},{"s":"N5","c":"S","x":975,"y":76},{"s":"N5","c":"S","x":977,"y":98},{"s":"N5","c":"S","x":978,"y":101},{"s":"N5","c":"S","x":979,"y":99},{"s":"N5","c":"S","x":981,"y":77},{"s":"N5","c":"S","x":983,"y":45},{"s":"N5","c":"S","x":985,"y":25},{"s":"N5","c":"S","x":987,"y":19},{"s":"N5","c":"S","x":990,"y":11},{"s":"N5","c":"S","x":993,"y":10},{"s":"N5","c":"S","x":996,"y":10},{"s":"N5","c":"S","x":1000,"y":9},{"s":"N5","c":"S","x":1005,"y":10},{"s":"N5","c":"S","x":1010,"y":10},{"s":"N5","c":"S","x":1015,"y":11},{"s":"N5","c":"S","x":1020,"y":10},
{"s":"N5","c":"L","x":920,"y":2},{"s":"N5","c":"L","x":1020,"y":6},
{"s":"N5","c":"A","x":954,"y":3},{"s":"N5","c":"A","x":957,"y":6},{"s":"N5","c":"A","x":959.5,"y":11},{"s":"N5","c":"A","x":962,"y":14},{"s":"N5","c":"A","x":964.5,"y":11},{"s":"N5","c":"A","x":967,"y":6},{"s":"N5","c":"A","x":970,"y":4},
{"s":"N5","c":"G","x":962,"y":4},{"s":"N5","c":"G","x":965,"y":10},{"s":"N5","c":"G","x":967.5,"y":22},{"s":"N5","c":"G","x":970,"y":29},{"s":"N5","c":"G","x":972.5,"y":22},{"s":"N5","c":"G","x":975,"y":10},{"s":"N5","c":"G","x":978,"y":4},
{"s":"N5","c":"U","x":970,"y":4},{"s":"N5","c":"U","x":973,"y":28},{"s":"N5","c":"U","x":975.5,"y":70},{"s":"N5","c":"U","x":978,"y":99},{"s":"N5","c":"U","x":980.5,"y":70},{"s":"N5","c":"U","x":983,"y":28},{"s":"N5","c":"U","x":986,"y":5},
{"s":"N5","c":"V","x":979,"y":4},{"s":"N5","c":"V","x":982,"y":7},{"s":"N5","c":"V","x":984.5,"y":12},{"s":"N5","c":"V","x":987,"y":16},{"s":"N5","c":"V","x":989.5,"y":12},{"s":"N5","c":"V","x":992,"y":7},{"s":"N5","c":"V","x":995,"y":5}
],
"lab":[
{"p":"Co","s":"C1","l":"3.4%","x":934.5,"y":502},{"p":"Co","s":"C2","l":"1.3%","x":934.5,"y":425},{"p":"Co","s":"C3","l":"1%","x":934.5,"y":347},{"p":"Co","s":"C4","l":"0.7%","x":934.5,"y":270},{"p":"Co","s":"C5","l":"0.3%","x":934.5,"y":193},{"p":"Co","s":"C6","l":"0.15%","x":934.5,"y":116},{"p":"Co","s":"C7","l":"0%","x":934.5,"y":39},
{"p":"Mn","s":"M1","l":"3%","x":934.5,"y":507},{"p":"Mn","s":"M2","l":"1.22%","x":934.5,"y":415},{"p":"Mn","s":"M3","l":"0.9%","x":934.5,"y":322},{"p":"Mn","s":"M4","l":"0.4%","x":934.5,"y":229},{"p":"Mn","s":"M5","l":"0.15%","x":934.5,"y":137},{"p":"Mn","s":"M6","l":"0%","x":934.5,"y":44},
{"p":"Ni","s":"N1","l":"3.4%","x":935,"y":419},{"p":"Ni","s":"N2","l":"1.3%","x":935,"y":325},{"p":"Ni","s":"N3","l":"0.7%","x":935,"y":231},{"p":"Ni","s":"N4","l":"0.15%","x":935,"y":137},{"p":"Ni","s":"N5","l":"0%","x":935,"y":44}
],
"vl":[
{"p":"Co","x":971,"y":545,"l":"971"},{"p":"Co","x":979,"y":521,"l":"979"},
{"p":"Mn","x":971,"y":542,"l":"971"},{"p":"Mn","x":979,"y":520,"l":"979"},
{"p":"Ni","x":971,"y":539,"l":"971"},{"p":"Ni","x":979,"y":514,"l":"979"}
]
},
"spacing":55,
"bounds":"flush",
"hconcat":[
{"title":"Co","width":165,"height":577,
"encoding":{"x":{"field":"x","type":"quantitative","scale":{"domain":[920,1020],"nice":false,"zero":false},"axis":{"values":[920,940,960,980,1000,1020],"format":"d","title":"Wavenumber /cm-1","tickSize":4,"labelPadding":3,"titlePadding":2}}},
"layer":[
{"data":{"name":"co"},"transform":[{"filter":"datum.c==='S'"}],"mark":{"type":"line","interpolate":"monotone","strokeWidth":1.3},
"encoding":{"y":{"field":"y","type":"quantitative","scale":{"domain":[0,577],"nice":false,"zero":false},"axis":{"orient":"left","values":[0,19.233,38.467,57.7,76.933,96.167,115.4,134.633,153.867,173.1,192.333,211.567,230.8,250.033,269.267,288.5,307.733,326.967,346.2,365.433,384.667,403.9,423.133,442.367,461.6,480.833,500.067,519.3,538.533,557.767,577],"labels":false,"title":"Normalised at X = 918.21","titlePadding":1,"tickSize":{"condition":{"test":"round(datum.value/96.1667*100) % 100 === 0","value":6},"value":4}}},
"color":{"field":"s","type":"nominal","legend":null,"scale":{"domain":["C1","C2","C3","C4","C5","C6","C7","M1","M2","M3","M4","M5","M6","N1","N2","N3","N4","N5","A","G","U","O","V"],"range":["#8797b3","#6b8e23","#25a85f","#1f3be0","#ff7a22","#35b52a","#ee2640","#7c9a22","#1da56a","#1f3be0","#ff7a22","#35b52a","#ee2640","#1da56a","#1f3be0","#ff7a22","#35b52a","#ee2640","#a3195b","#7ccd3a","#3d86e0","#f0a022","#6257cc"]}}}},
{"data":{"name":"co"},"transform":[{"filter":"indexof(['A','G','U','O','V'], datum.c) >= 0"}],"mark":{"type":"line","interpolate":"monotone","strokeWidth":1.1},
"encoding":{"y":{"field":"y","type":"quantitative","axis":{"orient":"right","values":[0,19.233,38.467,57.7,76.933,96.167,115.4,134.633,153.867,173.1,192.333,211.567,230.8,250.033,269.267,288.5,307.733,326.967,346.2,365.433,384.667,403.9,423.133,442.367,461.6,480.833,500.067,519.3,538.533,557.767,577],"labels":false,"title":null,"tickSize":{"condition":{"test":"round(datum.value/96.1667*100) % 100 === 0","value":6},"value":4}}},
"color":{"field":"c","type":"nominal","legend":null},"detail":{"field":"s"}}},
{"data":{"name":"co"},"transform":[{"filter":"datum.c==='L'"}],"mark":{"type":"line","color":"#1b2fd0","strokeWidth":1.5},
"encoding":{"y":{"field":"y","type":"quantitative","axis":null},"detail":{"field":"s"}}},
{"data":{"name":"vl"},"transform":[{"filter":"datum.p==='Co'"}],"mark":{"type":"rule","color":"#000","strokeWidth":1.3},
"encoding":{"y":{"field":"y","type":"quantitative","axis":null},"y2":{"datum":0}}},
{"data":{"name":"vl"},"transform":[{"filter":"datum.p==='Co'"}],"mark":{"type":"text","align":"left","baseline":"alphabetic","dy":2,"fontSize":13,"color":"#000"},
"encoding":{"y":{"field":"y","type":"quantitative","axis":null},"text":{"field":"l"}}},
{"data":{"name":"lab"},"transform":[{"filter":"datum.p==='Co'"}],"mark":{"type":"text","align":"left","baseline":"middle","fontSize":12},
"encoding":{"y":{"field":"y","type":"quantitative","axis":null},"text":{"field":"l"},"color":{"field":"s","type":"nominal","legend":null}}}
],
"resolve":{"axis":{"y":"independent"}}},

{"title":"Mn","width":165,"height":577,
"encoding":{"x":{"field":"x","type":"quantitative","scale":{"domain":[920,1020],"nice":false,"zero":false},"axis":{"values":[920,940,960,980,1000,1020],"format":"d","title":"Wavenumber /cm-1","tickSize":4,"labelPadding":3,"titlePadding":2}}},
"layer":[
{"data":{"name":"mn"},"transform":[{"filter":"datum.c==='S'"}],"mark":{"type":"line","interpolate":"monotone","strokeWidth":1.3},
"encoding":{"y":{"field":"y","type":"quantitative","scale":{"domain":[0,577],"nice":false,"zero":false},"axis":{"orient":"left","values":[0,19.233,38.467,57.7,76.933,96.167,115.4,134.633,153.867,173.1,192.333,211.567,230.8,250.033,269.267,288.5,307.733,326.967,346.2,365.433,384.667,403.9,423.133,442.367,461.6,480.833,500.067,519.3,538.533,557.767,577],"labels":false,"title":"Normalised at X = 918.21","titlePadding":1,"tickSize":{"condition":{"test":"round(datum.value/96.1667*100) % 100 === 0","value":6},"value":4}}},
"color":{"field":"s","type":"nominal","legend":null}}},
{"data":{"name":"mn"},"transform":[{"filter":"indexof(['A','G','U','O','V'], datum.c) >= 0"}],"mark":{"type":"line","interpolate":"monotone","strokeWidth":1.1},
"encoding":{"y":{"field":"y","type":"quantitative","axis":{"orient":"right","values":[0,19.233,38.467,57.7,76.933,96.167,115.4,134.633,153.867,173.1,192.333,211.567,230.8,250.033,269.267,288.5,307.733,326.967,346.2,365.433,384.667,403.9,423.133,442.367,461.6,480.833,500.067,519.3,538.533,557.767,577],"labels":false,"title":null,"tickSize":{"condition":{"test":"round(datum.value/96.1667*100) % 100 === 0","value":6},"value":4}}},
"color":{"field":"c","type":"nominal","legend":null},"detail":{"field":"s"}}},
{"data":{"name":"mn"},"transform":[{"filter":"datum.c==='L'"}],"mark":{"type":"line","color":"#1b2fd0","strokeWidth":1.5},
"encoding":{"y":{"field":"y","type":"quantitative","axis":null},"detail":{"field":"s"}}},
{"data":{"name":"vl"},"transform":[{"filter":"datum.p==='Mn'"}],"mark":{"type":"rule","color":"#222","strokeWidth":1.6},
"encoding":{"y":{"field":"y","type":"quantitative","axis":null},"y2":{"datum":0}}},
{"data":{"name":"vl"},"transform":[{"filter":"datum.p==='Mn'"}],"mark":{"type":"text","align":"left","baseline":"alphabetic","dy":2,"fontSize":13,"color":"#000"},
"encoding":{"y":{"field":"y","type":"quantitative","axis":null},"text":{"field":"l"}}},
{"data":{"name":"lab"},"transform":[{"filter":"datum.p==='Mn'"}],"mark":{"type":"text","align":"left","baseline":"middle","fontSize":12},
"encoding":{"y":{"field":"y","type":"quantitative","axis":null},"text":{"field":"l"},"color":{"field":"s","type":"nominal","legend":null}}}
],
"resolve":{"axis":{"y":"independent"}}},

{"title":"Ni","width":165,"height":577,
"encoding":{"x":{"field":"x","type":"quantitative","scale":{"domain":[920,1020],"nice":false,"zero":false},"axis":{"values":[920,940,960,980,1000,1020],"format":"d","title":"Wavenumber /cm-1","tickSize":4,"labelPadding":3,"titlePadding":2}}},
"layer":[
{"data":{"name":"ni"},"transform":[{"filter":"datum.c==='S'"}],"mark":{"type":"line","interpolate":"monotone","strokeWidth":1.3},
"encoding":{"y":{"field":"y","type":"quantitative","scale":{"domain":[0,577],"nice":false,"zero":false},"axis":{"orient":"left","values":[0,19.233,38.467,57.7,76.933,96.167,115.4,134.633,153.867,173.1,192.333,211.567,230.8,250.033,269.267,288.5,307.733,326.967,346.2,365.433,384.667,403.9,423.133,442.367,461.6,480.833,500.067,519.3,538.533,557.767,577],"labels":false,"title":"Normalised at X = 918.21","titlePadding":1,"tickSize":{"condition":{"test":"round(datum.value/96.1667*100) % 100 === 0","value":6},"value":4}}},
"color":{"field":"s","type":"nominal","legend":null}}},
{"data":{"name":"ni"},"transform":[{"filter":"indexof(['A','G','U','O','V'], datum.c) >= 0"}],"mark":{"type":"line","interpolate":"monotone","strokeWidth":1.1},
"encoding":{"y":{"field":"y","type":"quantitative","axis":{"orient":"right","values":[0,19.233,38.467,57.7,76.933,96.167,115.4,134.633,153.867,173.1,192.333,211.567,230.8,250.033,269.267,288.5,307.733,326.967,346.2,365.433,384.667,403.9,423.133,442.367,461.6,480.833,500.067,519.3,538.533,557.767,577],"labels":false,"title":null,"tickSize":{"condition":{"test":"round(datum.value/96.1667*100) % 100 === 0","value":6},"value":4}}},
"color":{"field":"c","type":"nominal","legend":null},"detail":{"field":"s"}}},
{"data":{"name":"ni"},"transform":[{"filter":"datum.c==='L'"}],"mark":{"type":"line","color":"#1b2fd0","strokeWidth":1.5},
"encoding":{"y":{"field":"y","type":"quantitative","axis":null},"detail":{"field":"s"}}},
{"data":{"name":"vl"},"transform":[{"filter":"datum.p==='Ni'"}],"mark":{"type":"rule","color":"#555","strokeWidth":2.5},
"encoding":{"y":{"field":"y","type":"quantitative","axis":null},"y2":{"datum":0}}},
{"data":{"name":"vl"},"transform":[{"filter":"datum.p==='Ni'"}],"mark":{"type":"text","align":"left","baseline":"alphabetic","dy":2,"fontSize":13,"color":"#000"},
"encoding":{"y":{"field":"y","type":"quantitative","axis":null},"text":{"field":"l"}}},
{"data":{"name":"lab"},"transform":[{"filter":"datum.p==='Ni'"}],"mark":{"type":"text","align":"left","baseline":"middle","fontSize":12},
"encoding":{"y":{"field":"y","type":"quantitative","axis":null},"text":{"field":"l"},"color":{"field":"s","type":"nominal","legend":null}}}
],
"resolve":{"axis":{"y":"independent"}}}
]
}
